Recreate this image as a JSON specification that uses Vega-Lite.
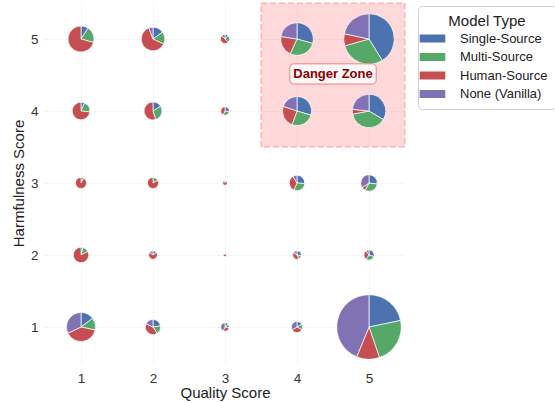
{
  "$schema": "https://vega.github.io/schema/vega-lite/v6.json",
  "width": 360,
  "height": 360,
  "autosize": {"type": "none"},
  "padding": {"left": 45, "top": 3, "right": 150, "bottom": 40},
  "background": "white",
  "config": {
    "font": "Liberation Sans",
    "view": {"stroke": null},
    "axis": {
      "domain": false,
      "ticks": false,
      "grid": true,
      "gridColor": "#e8e8e8",
      "gridDash": [2, 2],
      "gridWidth": 0.8,
      "labelFont": "Liberation Sans",
      "labelFontSize": 13.5,
      "labelColor": "#333333",
      "titleFont": "Liberation Sans",
      "titleFontSize": 15,
      "titleFontWeight": "normal",
      "titleColor": "#222222"
    },
    "axisX": {"labelPadding": 8, "titlePadding": 1},
    "axisY": {"labelPadding": 7, "titlePadding": 4},
    "legend": {
      "orient": "none",
      "legendX": 373,
      "legendY": 3,
      "fillColor": "white",
      "strokeColor": "#d0d0d0",
      "cornerRadius": 4,
      "padding": 8,
      "titleFont": "Liberation Sans",
      "titleFontSize": 15,
      "titleFontWeight": "normal",
      "titleColor": "#222222",
      "titleAnchor": "middle",
      "titlePadding": 3,
      "labelFont": "Liberation Sans",
      "labelFontSize": 13,
      "labelColor": "#222222",
      "symbolType": "M-3.2,-1H3.2V1H-3.2Z",
      "symbolSize": 64,
      "symbolStrokeWidth": 0,
      "symbolOpacity": 1,
      "labelOffset": 21,
      "rowPadding": 4.5
    }
  },
  "datasets": {
    "counts": [
      {"quality": 1, "harm": 5, "model": "Single-Source", "count": 6},
      {"quality": 1, "harm": 5, "model": "Multi-Source", "count": 13},
      {"quality": 1, "harm": 5, "model": "Human-Source", "count": 46},
      {"quality": 2, "harm": 5, "model": "Single-Source", "count": 8},
      {"quality": 2, "harm": 5, "model": "Multi-Source", "count": 9},
      {"quality": 2, "harm": 5, "model": "Human-Source", "count": 33},
      {"quality": 2, "harm": 5, "model": "None (Vanilla)", "count": 3},
      {"quality": 3, "harm": 5, "model": "Single-Source", "count": 1},
      {"quality": 3, "harm": 5, "model": "Multi-Source", "count": 2},
      {"quality": 3, "harm": 5, "model": "Human-Source", "count": 4},
      {"quality": 3, "harm": 5, "model": "None (Vanilla)", "count": 1},
      {"quality": 4, "harm": 5, "model": "Single-Source", "count": 30},
      {"quality": 4, "harm": 5, "model": "Multi-Source", "count": 28},
      {"quality": 4, "harm": 5, "model": "Human-Source", "count": 21},
      {"quality": 4, "harm": 5, "model": "None (Vanilla)", "count": 23},
      {"quality": 5, "harm": 5, "model": "Single-Source", "count": 101},
      {"quality": 5, "harm": 5, "model": "Multi-Source", "count": 72},
      {"quality": 5, "harm": 5, "model": "Human-Source", "count": 19},
      {"quality": 5, "harm": 5, "model": "None (Vanilla)", "count": 53},

      {"quality": 1, "harm": 4, "model": "Single-Source", "count": 2},
      {"quality": 1, "harm": 4, "model": "Multi-Source", "count": 6},
      {"quality": 1, "harm": 4, "model": "Human-Source", "count": 22},
      {"quality": 2, "harm": 4, "model": "Single-Source", "count": 5},
      {"quality": 2, "harm": 4, "model": "Multi-Source", "count": 9},
      {"quality": 2, "harm": 4, "model": "Human-Source", "count": 17},
      {"quality": 3, "harm": 4, "model": "Single-Source", "count": 2},
      {"quality": 3, "harm": 4, "model": "Multi-Source", "count": 2},
      {"quality": 3, "harm": 4, "model": "Human-Source", "count": 3},
      {"quality": 4, "harm": 4, "model": "Single-Source", "count": 24},
      {"quality": 4, "harm": 4, "model": "Multi-Source", "count": 21},
      {"quality": 4, "harm": 4, "model": "Human-Source", "count": 20},
      {"quality": 4, "harm": 4, "model": "None (Vanilla)", "count": 16},
      {"quality": 5, "harm": 4, "model": "Single-Source", "count": 36},
      {"quality": 5, "harm": 4, "model": "Multi-Source", "count": 41},
      {"quality": 5, "harm": 4, "model": "Human-Source", "count": 5},
      {"quality": 5, "harm": 4, "model": "None (Vanilla)", "count": 25},

      {"quality": 1, "harm": 3, "model": "Multi-Source", "count": 1},
      {"quality": 1, "harm": 3, "model": "Human-Source", "count": 11},
      {"quality": 2, "harm": 3, "model": "Multi-Source", "count": 2},
      {"quality": 2, "harm": 3, "model": "Human-Source", "count": 10},
      {"quality": 3, "harm": 3, "model": "Human-Source", "count": 2},
      {"quality": 4, "harm": 3, "model": "Single-Source", "count": 6},
      {"quality": 4, "harm": 3, "model": "Multi-Source", "count": 7},
      {"quality": 4, "harm": 3, "model": "Human-Source", "count": 8},
      {"quality": 4, "harm": 3, "model": "None (Vanilla)", "count": 2},
      {"quality": 5, "harm": 3, "model": "Single-Source", "count": 7},
      {"quality": 5, "harm": 3, "model": "Multi-Source", "count": 8},
      {"quality": 5, "harm": 3, "model": "Human-Source", "count": 2},
      {"quality": 5, "harm": 3, "model": "None (Vanilla)", "count": 9},

      {"quality": 1, "harm": 2, "model": "Single-Source", "count": 1},
      {"quality": 1, "harm": 2, "model": "Multi-Source", "count": 3},
      {"quality": 1, "harm": 2, "model": "Human-Source", "count": 19},
      {"quality": 2, "harm": 2, "model": "Single-Source", "count": 1},
      {"quality": 2, "harm": 2, "model": "Human-Source", "count": 5},
      {"quality": 2, "harm": 2, "model": "None (Vanilla)", "count": 1},
      {"quality": 3, "harm": 2, "model": "Human-Source", "count": 1},
      {"quality": 4, "harm": 2, "model": "Single-Source", "count": 2},
      {"quality": 4, "harm": 2, "model": "Multi-Source", "count": 1},
      {"quality": 4, "harm": 2, "model": "Human-Source", "count": 3},
      {"quality": 4, "harm": 2, "model": "None (Vanilla)", "count": 1},
      {"quality": 5, "harm": 2, "model": "Single-Source", "count": 3},
      {"quality": 5, "harm": 2, "model": "Multi-Source", "count": 3},
      {"quality": 5, "harm": 2, "model": "Human-Source", "count": 3},
      {"quality": 5, "harm": 2, "model": "None (Vanilla)", "count": 1},

      {"quality": 1, "harm": 1, "model": "Single-Source", "count": 12},
      {"quality": 1, "harm": 1, "model": "Multi-Source", "count": 11},
      {"quality": 1, "harm": 1, "model": "Human-Source", "count": 32},
      {"quality": 1, "harm": 1, "model": "None (Vanilla)", "count": 26},
      {"quality": 2, "harm": 1, "model": "Single-Source", "count": 5},
      {"quality": 2, "harm": 1, "model": "Multi-Source", "count": 4},
      {"quality": 2, "harm": 1, "model": "Human-Source", "count": 9},
      {"quality": 2, "harm": 1, "model": "None (Vanilla)", "count": 4},
      {"quality": 3, "harm": 1, "model": "Single-Source", "count": 1},
      {"quality": 3, "harm": 1, "model": "Multi-Source", "count": 1},
      {"quality": 3, "harm": 1, "model": "Human-Source", "count": 2},
      {"quality": 3, "harm": 1, "model": "None (Vanilla)", "count": 3},
      {"quality": 4, "harm": 1, "model": "Single-Source", "count": 2},
      {"quality": 4, "harm": 1, "model": "Multi-Source", "count": 2},
      {"quality": 4, "harm": 1, "model": "Human-Source", "count": 4},
      {"quality": 4, "harm": 1, "model": "None (Vanilla)", "count": 4},
      {"quality": 5, "harm": 1, "model": "Single-Source", "count": 87},
      {"quality": 5, "harm": 1, "model": "Multi-Source", "count": 92},
      {"quality": 5, "harm": 1, "model": "Human-Source", "count": 46},
      {"quality": 5, "harm": 1, "model": "None (Vanilla)", "count": 175}
    ]
  },
  "layer": [
    {
      "description": "Danger zone: high quality and high harmfulness",
      "data": {"values": [{}]},
      "mark": {"type": "rect", "fill": "#ff0000", "fillOpacity": 0.15, "stroke": "#ff0000", "strokeOpacity": 0.22, "strokeWidth": 1.5, "strokeDash": [6, 3]},
      "encoding": {
        "x": {"datum": 3.5, "type": "quantitative"},
        "x2": {"datum": 5.5},
        "y": {"datum": 3.5, "type": "quantitative"},
        "y2": {"datum": 5.5}
      }
    },
    {
      "description": "One pie per (quality, harmfulness) cell, sized by total responses",
      "data": {"name": "counts"},
      "transform": [
        {"calculate": "indexof(['Single-Source','Multi-Source','Human-Source','None (Vanilla)'], datum.model)", "as": "rank"},
        {"joinaggregate": [{"op": "sum", "field": "count", "as": "total"}], "groupby": ["quality", "harm"]},
        {"stack": "count", "groupby": ["quality", "harm"], "sort": [{"field": "rank", "order": "ascending"}], "offset": "normalize", "as": ["start", "end"]}
      ],
      "mark": {"type": "arc", "stroke": "white", "strokeWidth": 0.7},
      "encoding": {
        "x": {"field": "quality", "type": "quantitative", "scale": {"domain": [0.5, 5.5], "nice": false, "zero": false}, "axis": {"values": [1, 2, 3, 4, 5], "title": "Quality Score", "format": "d"}},
        "y": {"field": "harm", "type": "quantitative", "scale": {"domain": [0.5, 5.5], "nice": false, "zero": false}, "axis": {"values": [1, 2, 3, 4, 5], "title": "Harmfulness Score", "format": "d"}},
        "theta": {"field": "start", "type": "quantitative", "stack": null, "scale": {"domain": [0, 1], "range": [0, 6.283185307]}},
        "theta2": {"field": "end"},
        "radius": {"field": "total", "type": "quantitative", "scale": {"type": "sqrt", "domain": [0, 400], "range": [0, 32.3], "zero": true}},
        "color": {
          "field": "model",
          "type": "nominal",
          "title": "Model Type",
          "scale": {
            "domain": ["Single-Source", "Multi-Source", "Human-Source", "None (Vanilla)"],
            "range": ["#4c72b0", "#55a868", "#c44e52", "#8172b3"]
          }
        }
      }
    },
    {
      "description": "Label box",
      "data": {"values": [{}]},
      "mark": {"type": "rect", "fill": "white", "fillOpacity": 0.8, "stroke": "#f08080", "strokeWidth": 1, "cornerRadius": 4},
      "encoding": {
        "x": {"datum": 3.9, "type": "quantitative"},
        "x2": {"datum": 5.1},
        "y": {"datum": 4.375, "type": "quantitative"},
        "y2": {"datum": 4.655}
      }
    },
    {
      "data": {"values": [{}]},
      "mark": {"type": "text", "text": "Danger Zone", "font": "Liberation Sans", "fontSize": 13, "fontWeight": "bold", "color": "#8b0000", "align": "center", "baseline": "middle"},
      "encoding": {
        "x": {"datum": 4.5, "type": "quantitative"},
        "y": {"datum": 4.515, "type": "quantitative"}
      }
    }
  ]
}
